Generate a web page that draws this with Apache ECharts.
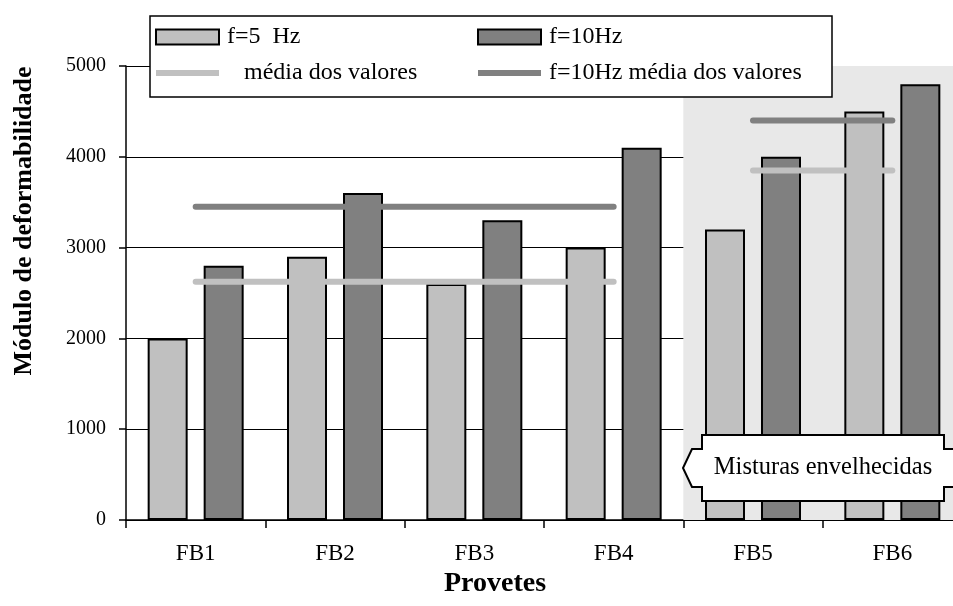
<!DOCTYPE html>
<html>
<head>
<meta charset="utf-8">
<script src="https://cdn.jsdelivr.net/npm/echarts@6/dist/echarts.min.js"></script>
<style>
  html, body { margin: 0; padding: 0; background: #fff; overflow: hidden; }
  #chart { width: 970px; height: 606px; }
</style>
</head>
<body>
<div id="chart"></div>
<script>
// Specimen labels
const categories = ['FB1', 'FB2', 'FB3', 'FB4', 'FB5', 'FB6'];
// Deformability modulus (MPa) at each test frequency
const valuesF5 = [2000, 2900, 2600, 3000, 3200, 4500];
const valuesF10 = [2800, 3600, 3300, 4100, 4000, 4800];
// Specimen groups averaged together: unaged FB1–FB4, aged FB5–FB6
const groups = [[0, 3], [4, 5]];
// Value axis
const yMin = 0, yMax = 5000, yStep = 1000;
// Index range (on a 0..6 scale) of the aged specimens
const agedRange = [4, 6];

const serif = '"Liberation Serif", "Times New Roman", serif';
const LIGHT = '#c0c0c0';
const DARK = '#808080';

function groupMeanSeries(values, g) {
  const [a, b] = g;
  let s = 0;
  for (let i = a; i <= b; i++) s += values[i];
  const m = s / (b - a + 1);
  return categories.map((_, i) => (i >= a && i <= b ? m : null));
}

const meanSeries = [];
groups.forEach((g) => {
  meanSeries.push({
    name: 'média dos valores', type: 'line', data: groupMeanSeries(valuesF5, g),
    symbol: 'none', z: 5, silent: true,
    lineStyle: { color: LIGHT, width: 6, cap: 'round' }, itemStyle: { color: LIGHT }
  });
  meanSeries.push({
    name: 'f=10Hz média dos valores', type: 'line', data: groupMeanSeries(valuesF10, g),
    symbol: 'none', z: 5, silent: true,
    lineStyle: { color: DARK, width: 6, cap: 'round' }, itemStyle: { color: DARK }
  });
});

const chart = echarts.init(document.getElementById('chart'), null, { renderer: 'canvas' });

const barIcon = 'rect';
const lineIcon = 'path://M0 0H63V6H0Z';

const legendCommon = {
  orient: 'vertical', top: 25, padding: 0, itemWidth: 63, itemHeight: 15, itemGap: 12, z: 6,
  symbolKeepAspect: true,
  textStyle: { fontFamily: serif, fontSize: 24, color: '#000', lineHeight: 22, padding: [0, 0, 0, 3] },
  selectedMode: false
};

chart.setOption({
  animation: false,
  backgroundColor: '#fff',
  grid: { left: 126, top: 66, bottom: 86, width: 836, containLabel: false },
  legend: [
    Object.assign({}, legendCommon, {
      left: 155,
      data: [
        { name: 'f=5  Hz', icon: barIcon, itemStyle: { borderColor: '#000', borderWidth: 2 } },
        { name: 'média dos valores', icon: lineIcon, textStyle: { padding: [0, 0, 0, 20] } }
      ]
    }),
    Object.assign({}, legendCommon, {
      left: 477,
      data: [
        { name: 'f=10Hz', icon: barIcon, itemStyle: { borderColor: '#000', borderWidth: 2 } },
        { name: 'f=10Hz média dos valores', icon: lineIcon }
      ]
    })
  ],
  xAxis: [
    {
      type: 'category', data: categories,
      name: 'Provetes', nameLocation: 'middle', nameGap: 49,
      nameTextStyle: { fontFamily: serif, fontSize: 28, fontWeight: 'bold', color: '#000', padding: [0, 98, 0, 0] },
      axisLine: { lineStyle: { color: '#000', width: 1.5 } },
      axisTick: { show: true, length: 8, lineStyle: { color: '#000', width: 1.5 } },
      axisLabel: { fontFamily: serif, fontSize: 23, color: '#000', margin: 22 },
      splitLine: { show: false }
    },
    { type: 'value', min: 0, max: 6, show: false }
  ],
  yAxis: {
    type: 'value', min: yMin, max: yMax, interval: yStep,
    axisLine: { show: true, lineStyle: { color: '#000', width: 1.5 } },
    axisTick: { show: true, length: 7, lineStyle: { color: '#000', width: 1.5 } },
    axisLabel: { fontFamily: serif, fontSize: 20, color: '#000', margin: 20, formatter: (v) => String(v) },
    splitLine: { show: true, lineStyle: { color: '#000', width: 1 } }
  },
  series: [
    {
      // background band behind the aged specimens
      name: 'aged', type: 'line', xAxisIndex: 1, data: [], z: -1, silent: true,
      markArea: {
        silent: true,
        itemStyle: { color: '#e8e8e8' },
        data: [[{ coord: [agedRange[0], yMin] }, { coord: [agedRange[1], yMax] }]]
      }
    },
    {
      name: 'f=5  Hz', type: 'bar', data: valuesF5, barWidth: 40, barGap: '40%', z: 3,
      itemStyle: { color: LIGHT, borderColor: '#000', borderWidth: 2 }
    },
    {
      name: 'f=10Hz', type: 'bar', data: valuesF10, barWidth: 40, barGap: '40%', z: 3,
      itemStyle: { color: DARK, borderColor: '#000', borderWidth: 2 }
    }
  ].concat(meanSeries),
  graphic: {
    elements: [
      {
        // value-axis title
        type: 'text', silent: true, x: 24, y: 221, rotation: Math.PI / 2,
        style: {
          text: 'Módulo de deformabilidade', fill: '#000',
          font: 'bold 26px ' + serif, align: 'center', verticalAlign: 'middle'
        }
      },
      {
        // legend frame
        type: 'rect', z: 4, silent: true,
        shape: { x: 150, y: 16, width: 682, height: 81 },
        style: { fill: '#fff', stroke: '#000', lineWidth: 1.5 }
      },
      {
        // callout for the aged mixtures
        type: 'polygon', z: 10, silent: true,
        shape: {
          points: [
            [702, 435], [944, 435], [944, 449], [962, 449], [962, 487], [944, 487],
            [944, 501], [702, 501], [702, 487], [692, 487], [683, 468], [692, 449], [702, 449]
          ]
        },
        style: { fill: '#fff', stroke: '#000', lineWidth: 2 }
      },
      {
        type: 'text', z: 11, silent: true, x: 823, y: 468,
        style: {
          text: 'Misturas envelhecidas', fill: '#000', font: '24.5px ' + serif,
          align: 'center', verticalAlign: 'middle'
        }
      }
    ]
  }
});
</script>
</body>
</html>
